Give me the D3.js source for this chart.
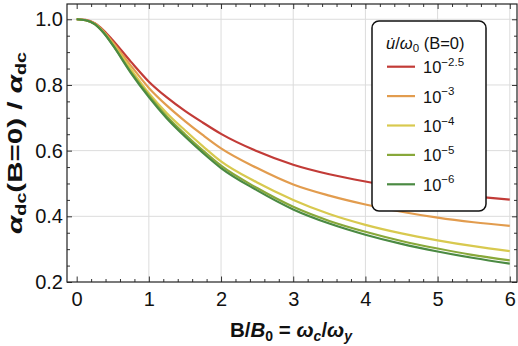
<!DOCTYPE html>
<html>
<head>
<meta charset="utf-8">
<script src="https://cdn.jsdelivr.net/npm/d3@7"></script>
<style>
  body { margin: 0; background: #fff; }
  svg { display: block; font-family: "Liberation Sans", Arial, sans-serif; }
</style>
</head>
<body>
<svg id="chart" width="518" height="346"></svg>
<script>
// ---- data ----
const xValues = [0, 0.125, 0.25, 0.375, 0.5, 0.75, 1, 1.25, 1.5, 1.75, 2, 2.5, 3, 3.5, 4, 4.5, 5, 5.5, 6];
const seriesNames = ["-2.5", "-3", "-4", "-5", "-6"];
const seriesColors = ["#c23b37", "#e29c4e", "#d8c94f", "#88a83a", "#4b8a43"];
const red25   = [1, 0.998, 0.988, 0.966, 0.936, 0.871, 0.810, 0.762, 0.721, 0.685, 0.651, 0.598, 0.557, 0.528, 0.506, 0.488, 0.473, 0.461, 0.451];
const orange3 = [1, 0.997, 0.987, 0.963, 0.930, 0.859, 0.791, 0.737, 0.690, 0.647, 0.607, 0.547, 0.497, 0.463, 0.436, 0.414, 0.396, 0.382, 0.371];
const yellow4 = [1, 0.997, 0.986, 0.960, 0.925, 0.848, 0.775, 0.714, 0.662, 0.613, 0.567, 0.503, 0.450, 0.407, 0.374, 0.348, 0.327, 0.309, 0.294];
const lgreen5 = [1, 0.997, 0.985, 0.959, 0.922, 0.840, 0.768, 0.704, 0.650, 0.600, 0.554, 0.486, 0.429, 0.386, 0.353, 0.325, 0.302, 0.282, 0.266];
const dgreen6 = [1, 0.997, 0.985, 0.958, 0.921, 0.837, 0.763, 0.698, 0.643, 0.593, 0.547, 0.479, 0.421, 0.378, 0.344, 0.316, 0.293, 0.273, 0.256];
const seriesValues = [red25, orange3, yellow4, lgreen5, dgreen6];
const xTicks = [0, 1, 2, 3, 4, 5, 6];
const yTicks = [0.2, 0.4, 0.6, 0.8, 1.0];
const xTickLabels = ["0", "1", "2", "3", "4", "5", "6"];
const yTickLabels = ["0.2", "0.4", "0.6", "0.8", "1.0"];

// ---- layout ----
const L = 67, R = 517, T = 4, B = 282;
const svg = d3.select("#chart");
const x = d3.scaleLinear().domain([-0.134, 6.1]).range([L, R]);
const y = d3.scaleLinear().domain([0.2, 1.0465]).range([B, T]);

// grid
const g = svg.append("g");
g.selectAll(".vg").data(xTicks.filter(d => d > 0)).join("line")
  .attr("x1", d => x(d)).attr("x2", d => x(d)).attr("y1", T).attr("y2", B)
  .attr("stroke", "#dcdcdc").attr("stroke-width", 1);
g.selectAll(".hg").data(yTicks.filter(d => d > 0.2)).join("line")
  .attr("y1", d => y(d)).attr("y2", d => y(d)).attr("x1", L).attr("x2", R)
  .attr("stroke", "#dcdcdc").attr("stroke-width", 1);

// curves
svg.append("clipPath").attr("id", "clip").append("rect")
  .attr("x", L).attr("y", T).attr("width", R - L).attr("height", B - T);
const line = d3.line().x(d => x(d[0])).y(d => y(d[1])).curve(d3.curveMonotoneX);
const curves = svg.append("g").attr("clip-path", "url(#clip)");
seriesValues.forEach((vals, i) => {
  curves.append("path")
    .datum(xValues.map((xv, j) => [xv, vals[j]]))
    .attr("d", line).attr("fill", "none")
    .attr("stroke", seriesColors[i]).attr("stroke-width", 2.2);
});

// axes with inward ticks
const minorX = d3.range(0, 6.01, 0.2).filter(v => Math.abs(v - Math.round(v)) > 1e-6);
const minorY = d3.range(0.2, 1.041, 0.05).filter(v => Math.abs(v * 5 - Math.round(v * 5)) > 1e-6);
function styleAxis(sel) {
  sel.select(".domain").remove();
  sel.selectAll("line").attr("stroke", "#333").attr("stroke-width", 1);
  sel.selectAll("text").attr("font-size", 20).attr("fill", "#111")
    .attr("font-family", "'Liberation Sans', Arial, sans-serif");
}
svg.append("g").attr("transform", `translate(0,${B})`)
  .call(d3.axisBottom(x).tickValues(xTicks).tickFormat((d, i) => xTickLabels[i]).tickSizeInner(-5.5).tickPadding(9.5))
  .call(styleAxis);
svg.append("g").attr("transform", `translate(0,${B})`)
  .call(d3.axisBottom(x).tickValues(minorX).tickFormat("").tickSizeInner(-3))
  .call(styleAxis);
svg.append("g").attr("transform", `translate(0,${T})`)
  .call(d3.axisTop(x).tickValues(xTicks).tickFormat("").tickSizeInner(-5))
  .call(styleAxis);
svg.append("g").attr("transform", `translate(0,${T})`)
  .call(d3.axisTop(x).tickValues(minorX).tickFormat("").tickSizeInner(-3))
  .call(styleAxis);
svg.append("g").attr("transform", `translate(${L},0)`)
  .call(d3.axisLeft(y).tickValues(yTicks).tickFormat((d, i) => yTickLabels[i]).tickSizeInner(-5).tickPadding(4))
  .call(styleAxis);
svg.append("g").attr("transform", `translate(${L},0)`)
  .call(d3.axisLeft(y).tickValues(minorY).tickFormat("").tickSizeInner(-3))
  .call(styleAxis);
svg.append("g").attr("transform", `translate(${R},0)`)
  .call(d3.axisRight(y).tickValues(yTicks).tickFormat("").tickSizeInner(-5))
  .call(styleAxis);
svg.append("g").attr("transform", `translate(${R},0)`)
  .call(d3.axisRight(y).tickValues(minorY).tickFormat("").tickSizeInner(-3))
  .call(styleAxis);

// frame
svg.append("rect").attr("x", L).attr("y", T).attr("width", R - L).attr("height", B - T)
  .attr("fill", "none").attr("stroke", "#222").attr("stroke-width", 1.2);

// axis titles
const xl = svg.append("text").attr("x", (L + R) / 2 - 1).attr("y", 337)
  .attr("text-anchor", "middle").attr("font-size", 20.5).attr("font-weight", "bold").attr("fill", "#111");
xl.append("tspan").text("B/");
xl.append("tspan").attr("font-style", "italic").text("B");
xl.append("tspan").attr("font-size", 14).attr("dy", 4).text("0");
xl.append("tspan").attr("dy", -4).text(" = ");
xl.append("tspan").attr("font-style", "italic").text("ω");
xl.append("tspan").attr("font-style", "italic").attr("font-size", 14).attr("dy", 4).text("c");
xl.append("tspan").attr("dy", -4).text("/");
xl.append("tspan").attr("font-style", "italic").text("ω");
xl.append("tspan").attr("font-style", "italic").attr("font-size", 14).attr("dy", 4).text("y");

const yl = svg.append("text").attr("transform", `translate(22,${(T + B) / 2}) rotate(-90)`)
  .attr("text-anchor", "middle").attr("font-size", 21).attr("font-weight", "bold").attr("fill", "#111")
  .attr("textLength", 182).attr("lengthAdjust", "spacingAndGlyphs");
yl.append("tspan").attr("font-style", "italic").text("α");
yl.append("tspan").attr("font-size", 14).attr("dy", 4).text("dc");
yl.append("tspan").attr("dy", -4).text("(B=0) / ");
yl.append("tspan").attr("font-style", "italic").text("α");
yl.append("tspan").attr("font-size", 14).attr("dy", 4).text("dc");

// legend
const lg = svg.append("g");
lg.append("rect").attr("x", 372).attr("y", 21).attr("width", 114).attr("height", 190)
  .attr("rx", 7).attr("fill", "#fff").attr("stroke", "#111").attr("stroke-width", 1.5);
const lt = lg.append("text").attr("x", 386).attr("y", 49).attr("font-size", 16.5).attr("fill", "#111");
lt.append("tspan").attr("font-style", "italic").text("u\u0307");
lt.append("tspan").text("/");
lt.append("tspan").attr("font-style", "italic").text("ω");
lt.append("tspan").attr("font-size", 11.5).attr("dy", 3).text("0");
lt.append("tspan").attr("dy", -3).text(" (B=0)");
seriesNames.forEach((s, i) => {
  const yy = 66.7 + i * 29.4;
  lg.append("line").attr("x1", 387).attr("x2", 415).attr("y1", yy).attr("y2", yy)
    .attr("stroke", seriesColors[i]).attr("stroke-width", 2.2);
  const t = lg.append("text").attr("x", 423).attr("y", yy + 6.5).attr("font-size", 16.5).attr("fill", "#111");
  t.append("tspan").text("10");
  t.append("tspan").attr("font-size", 11.5).attr("dy", -7.5).text(s.replace("-", "\u2212"));
});
</script>
</body>
</html>
